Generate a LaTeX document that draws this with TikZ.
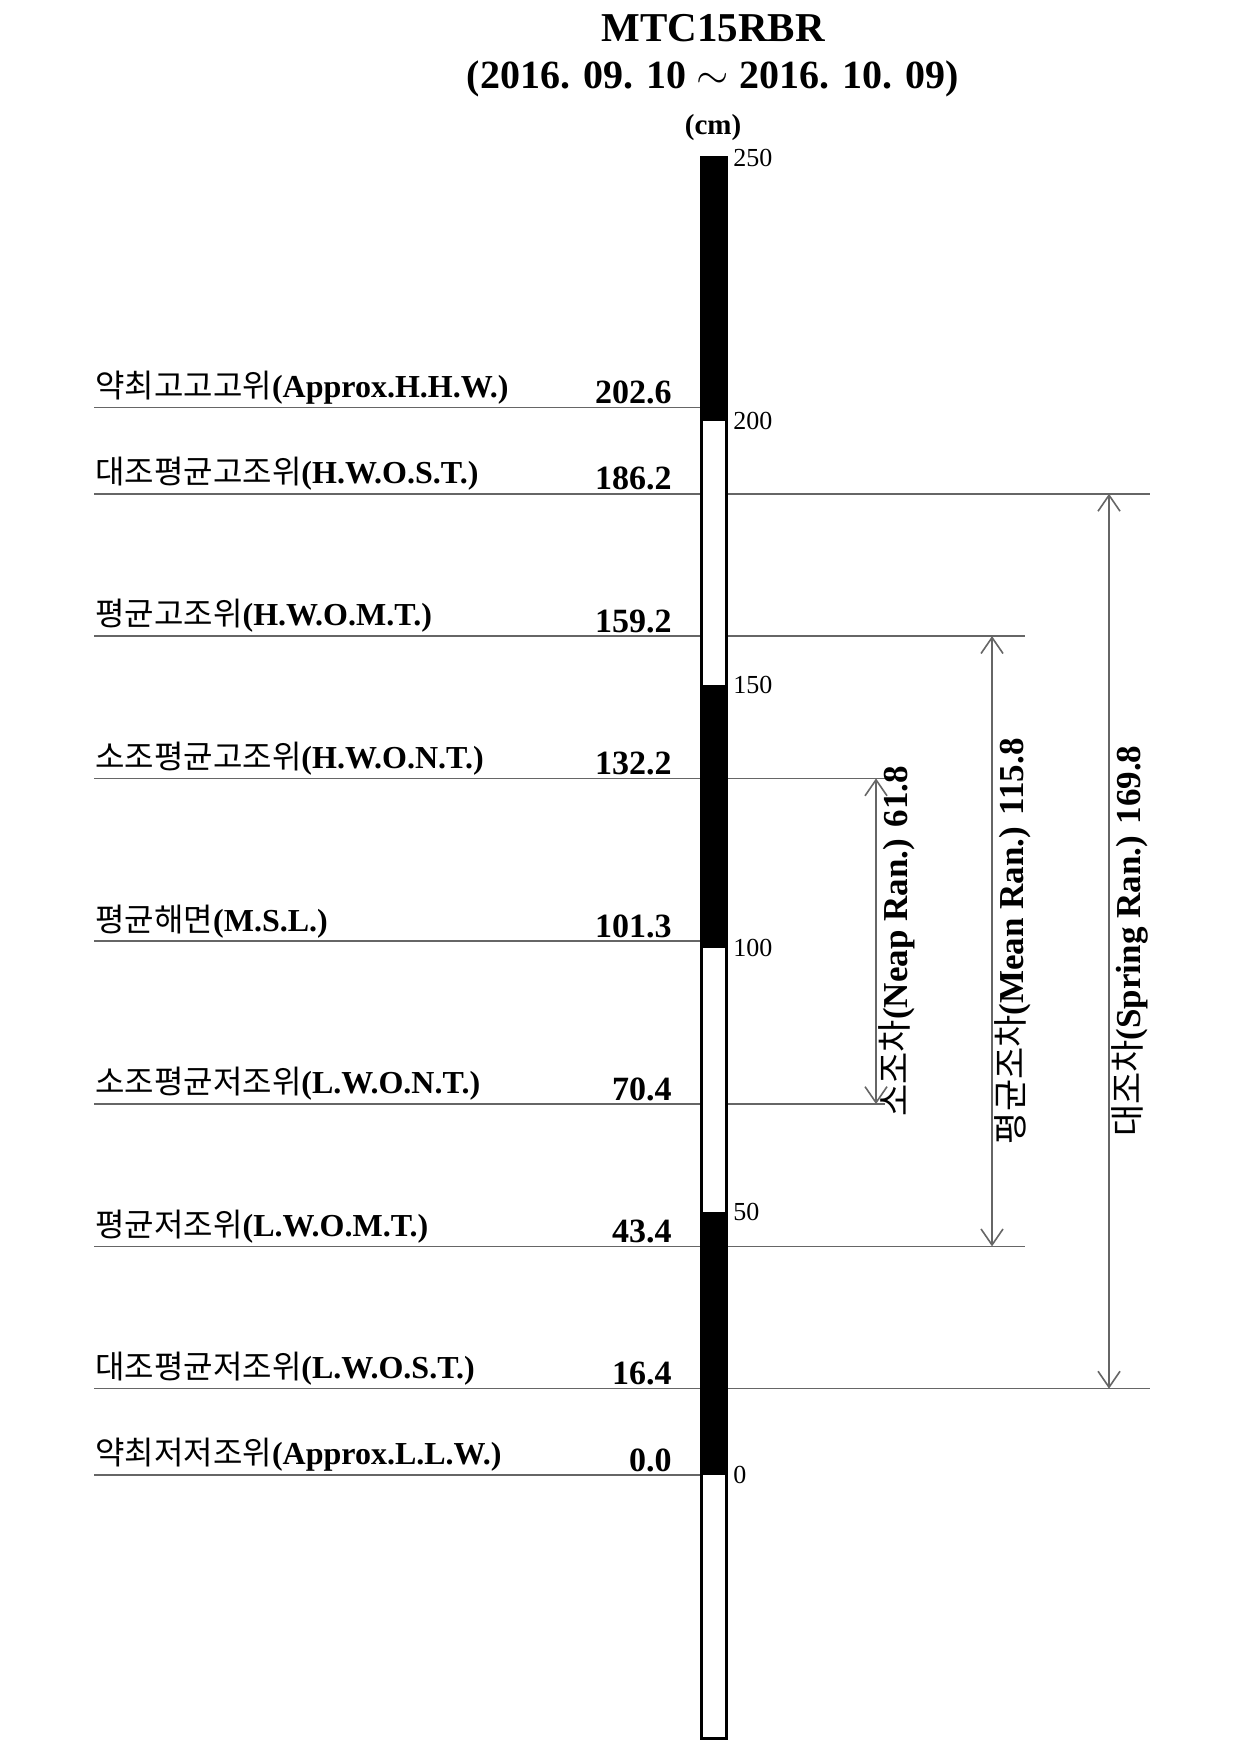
\documentclass[tikz,border=0pt]{standalone}
\usepackage{fontspec}
\setmainfont{Liberation Serif}
\newfontfamily\krfont{Noto Sans CJK KR}
\usetikzlibrary{positioning, arrows.meta}
\newcommand{\hangul}[1]{{\normalfont\krfont #1}}
\tikzset{
  lbl/.style={anchor=south west, inner xsep=0pt, inner ysep=1.5pt,
              font=\fontsize{16}{18}\selectfont\bfseries},
  val/.style={anchor=south east, inner xsep=0pt, inner ysep=1.5pt,
              font=\fontsize{17}{20}\selectfont\bfseries},
  scalelbl/.style={anchor=west, inner sep=0pt, font=\fontsize{13}{15}\selectfont},
  lvl/.style={draw=black!60, line width=0.8pt},
  rng/.style={lvl, {Straight Barb[length=8pt,width=11pt]}-{Straight Barb[length=8pt,width=11pt]}},
  rlbl/.style={rotate=90, anchor=north, inner sep=1pt,
               font=\fontsize{17.5}{20}\selectfont\bfseries},
  blk/.style={fill=black},
  wht/.style={fill=white},
}
\begin{document}
\begin{tikzpicture}[x=0.5pt, y=2.635pt]
        \useasboundingbox (0,-53.3) rectangle (1241,279.9);
        \fill[white] (0,-53.3) rectangle (1241,279.9);
        % title
        \node[font=\fontsize{20.5}{24}\selectfont\bfseries] (ttl) at (713,274.6) {MTC15RBR};
        \node[font=\fontsize{20}{24}\selectfont\bfseries, below=2.6pt of ttl] (prd)
              {(2016. 09. 10 $\sim$ 2016. 10. 09)};
        \node[font=\fontsize{14.5}{17}\selectfont\bfseries, below=1.4pt of prd] (unit) {(cm)};
        % levels
        \coordinate (hhwL) at (94,202.6); \coordinate (hhwB) at (701,202.6);
        \draw[lvl] (hhwL) -- (hhwB);
        \node[lbl] (hhw) at (95,202.6) {\hangul{약최고고고위}(Approx.H.H.W.)};
        \node[val] (hhwv) at (672,202.6) {202.6};
        \coordinate (hwostL) at (94,186.2); \coordinate (hwostR) at (1150,186.2);
        \draw[lvl] (hwostL) -- (hwostR);
        \node[lbl] (hwost) at (95,186.2) {\hangul{대조평균고조위}(H.W.O.S.T.)};
        \node[val] (hwostv) at (672,186.2) {186.2};
        \coordinate (hwomtL) at (94,159.2); \coordinate (hwomtR) at (1025,159.2);
        \draw[lvl] (hwomtL) -- (hwomtR);
        \node[lbl] (hwomt) at (95,159.2) {\hangul{평균고조위}(H.W.O.M.T.)};
        \node[val] (hwomtv) at (672,159.2) {159.2};
        \coordinate (hwontL) at (94,132.2); \coordinate (hwontR) at (885,132.2);
        \draw[lvl] (hwontL) -- (hwontR);
        \node[lbl] (hwont) at (95,132.2) {\hangul{소조평균고조위}(H.W.O.N.T.)};
        \node[val] (hwontv) at (672,132.2) {132.2};
        \coordinate (mslL) at (94,101.3); \coordinate (mslB) at (701,101.3);
        \draw[lvl] (mslL) -- (mslB);
        \node[lbl] (msl) at (95,101.3) {\hangul{평균해면}(M.S.L.)};
        \node[val] (mslv) at (672,101.3) {101.3};
        \coordinate (lwontL) at (94,70.4); \coordinate (lwontR) at (885,70.4);
        \draw[lvl] (lwontL) -- (lwontR);
        \node[lbl] (lwont) at (95,70.4) {\hangul{소조평균저조위}(L.W.O.N.T.)};
        \node[val] (lwontv) at (672,70.4) {70.4};
        \coordinate (lwomtL) at (94,43.4); \coordinate (lwomtR) at (1025,43.4);
        \draw[lvl] (lwomtL) -- (lwomtR);
        \node[lbl] (lwomt) at (95,43.4) {\hangul{평균저조위}(L.W.O.M.T.)};
        \node[val] (lwomtv) at (672,43.4) {43.4};
        \coordinate (lwostL) at (94,16.4); \coordinate (lwostR) at (1150,16.4);
        \draw[lvl] (lwostL) -- (lwostR);
        \node[lbl] (lwost) at (95,16.4) {\hangul{대조평균저조위}(L.W.O.S.T.)};
        \node[val] (lwostv) at (672,16.4) {16.4};
        \coordinate (llwL) at (94,0); \coordinate (llwB) at (701,0);
        \draw[lvl] (llwL) -- (llwB);
        \node[lbl] (llw) at (95,0) {\hangul{약최저저조위}(Approx.L.L.W.)};
        \node[val] (llwv) at (672,0) {0.0};
        % staff gauge
        \fill[blk] (701,200) rectangle (726,250);
        \fill[wht] (701,150) rectangle (726,200);
        \fill[blk] (701,100) rectangle (726,150);
        \fill[wht] (701,50) rectangle (726,100);
        \fill[blk] (701,0) rectangle (726,50);
        \fill[wht] (701,-50) rectangle (726,0);
        \draw[line width=1.5pt] (701,-50) rectangle (726,250);
        \node[scalelbl] (s250) at (733,250) {250};
        \node[scalelbl] (s200) at (733,200) {200};
        \node[scalelbl] (s150) at (733,150) {150};
        \node[scalelbl] (s100) at (733,100) {100};
        \node[scalelbl] (s50) at (733,50) {50};
        \node[scalelbl] (s0) at (733,0) {0};
        % ranges
        \coordinate (neapT) at (876,132.2); \coordinate (neapB) at (876,70.4);
        \draw[rng] (neapT) -- (neapB)
              node[midway, rlbl] (neap) {\hangul{소조차}(Neap Ran.) 61.8};
        \coordinate (meanT) at (992,159.2); \coordinate (meanB) at (992,43.4);
        \draw[rng] (meanT) -- (meanB)
              node[midway, rlbl] (mean) {\hangul{평균조차}(Mean Ran.) 115.8};
        \coordinate (sprT) at (1109,186.2); \coordinate (sprB) at (1109,16.4);
        \draw[rng] (sprT) -- (sprB)
              node[midway, rlbl] (spr) {\hangul{대조차}(Spring Ran.) 169.8};
      \end{tikzpicture}
\end{document}
